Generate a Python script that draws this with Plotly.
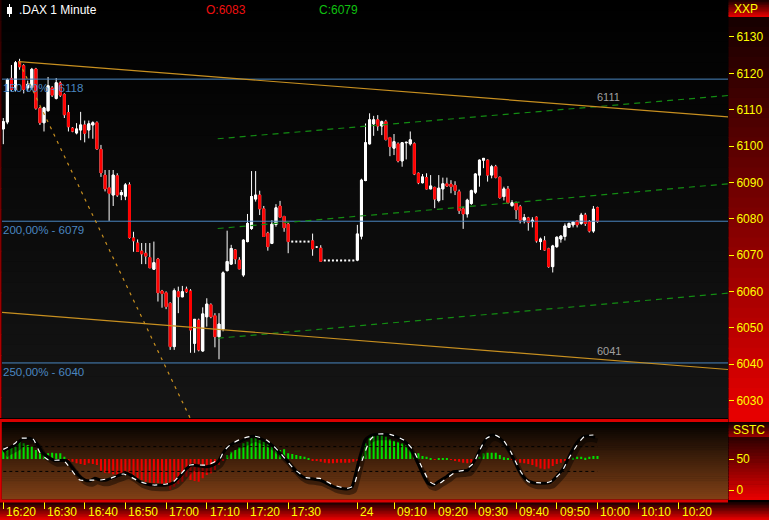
import plotly.graph_objects as go

W, H = 769, 520

# ---------------- data ----------------
day1 = [f"{h:02d}:{m:02d}" for h in (16, 17) for m in range(60)]
day1 = [t for t in day1 if "16:20" <= t <= "17:46"]
day2 = [f"{h:02d}:{m:02d}" for h in (9, 10) for m in range(60)]
day2 = [t for t in day2 if "09:01" <= t <= "10:00"]
times = day1 + day2
future_times = [f"10:{m:02d}" for m in range(1, 33)]
axis_times = times + future_times

tick_labels = ["16:20", "16:30", "16:40", "16:50", "17:00", "17:10", "17:20", "17:30",
               "24", "09:10", "09:20", "09:30", "09:40", "09:50", "10:00", "10:10", "10:20"]
tick_times = ["16:20", "16:30", "16:40", "16:50", "17:00", "17:10", "17:20", "17:30",
              "09:01", "09:10", "09:20", "09:30", "09:40", "09:50", "10:00", "10:10", "10:20"]

opens = [6104.7, 6106.6, 6118.6, 6115.6, 6123.2, 6122.1, 6116.0, 6116.1, 6121.2, 6110.4,
         6106.4, 6109.7, 6116.0, 6113.1, 6117.3, 6114.2, 6109.2, 6104.9, 6103.6, 6104.4,
         6105.8, 6104.4, 6105.8, 6106.4, 6099.1, 6092.0, 6088.5, 6086.5, 6091.8, 6086.6,
         6086.2, 6089.3, 6074.7, 6073.3, 6071.1, 6070.5, 6069.3, 6066.1, 6068.9, 6060.1,
         6059.6, 6056.7, 6044.8, 6059.9, 6058.5, 6060.6, 6060.1, 6045.7, 6052.1, 6043.6,
         6053.0, 6056.3, 6053.3, 6047.5, 6049.6, 6065.7, 6067.5, 6071.4, 6068.6, 6064.5,
         6073.7, 6077.3, 6085.4, 6086.5, 6082.7, 6076.0, 6073.2, 6078.4, 6083.5, 6080.6,
         6078.5, 6073.7, 6073.7, 6073.7, 6073.7, 6073.7, 6073.9, 6072.2, 6071.9, 6068.5,
         6068.5, 6068.5, 6068.5, 6068.5, 6068.5, 6068.5, 6068.5, 6068.6, 6075.2, 6090.5,
         6100.6, 6106.1, 6107.2, 6105.5, 6106.7, 6102.3, 6099.4, 6100.6, 6095.9, 6100.9,
         6100.6, 6100.6, 6092.5, 6089.9, 6091.3, 6088.2, 6088.6, 6085.0, 6088.2, 6089.6,
         6089.5, 6089.2, 6087.4, 6082.7, 6081.3, 6084.2, 6087.3, 6092.0, 6096.1, 6096.1,
         6092.0, 6094.3, 6091.4, 6086.1, 6088.2, 6083.6, 6084.2, 6083.3, 6079.6, 6080.2,
         6079.2, 6080.4, 6073.7, 6073.9, 6071.7, 6066.8, 6072.3, 6074.4, 6075.1, 6077.6,
         6078.3, 6079.4, 6078.7, 6081.0, 6079.2, 6076.6, 6083.0]
highs = [6107.7, 6118.6, 6122.3, 6123.4, 6124.0, 6122.5, 6118.0, 6121.5, 6121.5, 6110.8,
         6110.8, 6119.0, 6116.5, 6118.7, 6117.8, 6114.5, 6111.3, 6105.2, 6106.3, 6109.4,
         6107.0, 6107.0, 6106.8, 6106.8, 6100.3, 6093.4, 6093.4, 6093.4, 6092.5, 6087.9,
         6089.8, 6090.0, 6076.4, 6074.3, 6073.3, 6073.3, 6073.3, 6073.7, 6069.2, 6060.4,
         6060.0, 6057.0, 6060.8, 6061.3, 6061.5, 6061.3, 6060.6, 6052.3, 6052.5, 6055.6,
         6058.1, 6056.7, 6054.0, 6054.0, 6065.5, 6076.7, 6072.8, 6071.6, 6069.4, 6074.3,
         6081.3, 6093.1, 6093.1, 6087.7, 6083.5, 6076.4, 6079.6, 6084.0, 6084.9, 6080.8,
         6078.8, 6073.7, 6073.7, 6073.7, 6073.7, 6073.7, 6075.9, 6072.2, 6072.7, 6068.5,
         6068.5, 6068.5, 6068.5, 6068.5, 6068.5, 6068.5, 6068.5, 6078.3, 6091.0, 6106.2,
         6109.0, 6108.3, 6108.5, 6107.0, 6107.2, 6102.5, 6103.3, 6101.0, 6101.0, 6101.2,
         6104.0, 6101.0, 6092.7, 6092.3, 6092.5, 6092.0, 6088.8, 6092.0, 6091.3, 6091.3,
         6090.6, 6090.3, 6088.0, 6083.3, 6085.5, 6088.0, 6092.5, 6096.3, 6096.6, 6096.3,
         6094.8, 6094.8, 6091.6, 6088.8, 6089.0, 6085.1, 6084.7, 6083.8, 6081.3, 6080.5,
         6080.4, 6080.6, 6074.8, 6075.2, 6072.0, 6072.8, 6075.1, 6075.5, 6078.7, 6078.9,
         6079.3, 6079.6, 6081.6, 6081.6, 6079.6, 6083.5, 6083.3]
lows = [6100.5, 6106.0, 6115.0, 6115.0, 6121.0, 6114.5, 6115.0, 6115.5, 6110.0, 6105.8,
        6104.0, 6109.5, 6113.5, 6112.8, 6113.5, 6107.7, 6104.0, 6103.8, 6103.2, 6101.6,
        6101.0, 6102.1, 6102.0, 6099.0, 6091.5, 6087.5, 6079.4, 6083.5, 6086.0, 6085.1,
        6085.1, 6074.5, 6070.9, 6070.9, 6067.5, 6067.5, 6066.4, 6065.9, 6057.2, 6055.5,
        6055.1, 6043.9, 6043.9, 6054.0, 6058.4, 6059.6, 6043.1, 6043.1, 6043.5, 6043.4,
        6050.3, 6052.6, 6044.6, 6041.3, 6049.0, 6065.5, 6067.3, 6067.5, 6066.1, 6064.0,
        6073.5, 6076.9, 6084.7, 6081.0, 6075.0, 6071.2, 6073.0, 6077.8, 6080.3, 6076.4,
        6070.5, 6073.7, 6073.7, 6073.7, 6073.7, 6073.7, 6069.8, 6072.2, 6068.3, 6068.5,
        6068.5, 6068.5, 6068.5, 6068.5, 6068.5, 6068.5, 6068.5, 6068.3, 6074.3, 6090.3,
        6100.4, 6102.8, 6104.2, 6103.0, 6101.5, 6097.2, 6097.5, 6095.5, 6094.3, 6096.3,
        6100.1, 6092.0, 6089.5, 6089.7, 6088.1, 6088.1, 6082.9, 6084.5, 6085.1, 6088.8,
        6087.0, 6086.5, 6081.3, 6077.2, 6080.3, 6083.8, 6086.8, 6088.8, 6093.9, 6090.2,
        6091.1, 6091.1, 6085.5, 6085.0, 6084.2, 6083.3, 6079.9, 6078.7, 6078.7, 6076.7,
        6077.6, 6073.4, 6071.4, 6071.2, 6066.5, 6065.2, 6072.0, 6073.4, 6074.0, 6077.5,
        6077.6, 6077.6, 6078.3, 6078.0, 6076.2, 6076.1, 6078.9]
closes = [6106.7, 6118.2, 6115.6, 6122.9, 6121.8, 6115.6, 6117.0, 6121.1, 6110.4, 6106.4,
          6110.5, 6116.6, 6114.0, 6117.4, 6114.0, 6108.6, 6105.3, 6104.1, 6104.7, 6105.8,
          6103.5, 6106.1, 6106.4, 6099.2, 6092.6, 6088.2, 6087.0, 6092.0, 6086.5, 6087.2,
          6089.3, 6074.8, 6073.9, 6071.0, 6070.3, 6069.7, 6066.5, 6067.9, 6059.6, 6059.4,
          6055.8, 6044.8, 6060.2, 6058.5, 6059.9, 6059.9, 6049.4, 6052.3, 6043.9, 6053.8,
          6056.5, 6053.0, 6047.5, 6051.0, 6065.1, 6068.2, 6071.8, 6068.9, 6066.2, 6074.1,
          6078.7, 6086.1, 6086.5, 6082.7, 6075.1, 6072.3, 6078.5, 6083.0, 6080.4, 6077.5,
          6073.7, 6073.7, 6073.7, 6073.7, 6073.7, 6073.7, 6071.7, 6072.2, 6068.3, 6068.5,
          6068.5, 6068.5, 6068.5, 6068.5, 6068.5, 6068.5, 6068.5, 6075.8, 6090.6, 6100.9,
          6107.2, 6107.2, 6105.5, 6106.7, 6101.8, 6099.8, 6101.2, 6095.9, 6100.9, 6101.0,
          6101.7, 6092.3, 6089.9, 6091.5, 6088.2, 6089.0, 6085.4, 6088.4, 6089.6, 6089.0,
          6088.8, 6087.7, 6082.2, 6081.3, 6085.1, 6087.7, 6092.3, 6096.1, 6096.6, 6092.0,
          6094.3, 6091.4, 6085.8, 6088.2, 6084.4, 6084.4, 6082.4, 6079.6, 6080.3, 6079.0,
          6079.6, 6073.9, 6074.4, 6071.4, 6066.8, 6072.5, 6074.9, 6075.2, 6078.0, 6078.7,
          6079.1, 6078.3, 6081.0, 6078.7, 6076.6, 6082.6, 6079.2]

# Fibonacci extension levels (price) and their labels
fib_levels = [6118.4, 6079.3, 6040.3]
fib_labels = ["150,00% - 6118", "200,00% - 6079", "250,00% - 6040"]

# trend channel (gold) and fan line: (bar index, price) end points
gold_upper_x, gold_upper_y = [3.86, 178.1], [6123.2, 6108.0]
gold_lower_x, gold_lower_y = [-0.32, 178.1], [6054.2, 6038.5]
gold_fan_x, gold_fan_y = [3.86, 48.1], [6123.2, 6020.0]
channel_labels = [("6111", 145.4, 6110.9), ("6041", 145.4, 6041.2)]

# regression channel (green dashed)
green_x = [52.68, 178.1]
green_top = [6102.0, 6113.9]
green_mid = [6077.3, 6089.6]
green_bot = [6047.1, 6059.5]

# SSTC indicator
sstc_hist = [64.5, 65.6, 68.8, 72.6, 78.0, 75.3, 72.6, 69.9, 64.5, 59.1,
             56.5, 59.1, 60.2, 59.1, 59.1, 53.8, 47.3, 45.7, 43.0, 41.9,
             40.3, 43.0, 41.9, 40.3, 29.6, 28.0, 26.9, 25.3, 24.2, 23.1,
             26.9, 24.2, 21.5, 18.8, 16.1, 13.4, 11.8, 10.8, 10.8, 9.7,
             8.1, 0.5, 5.4, 9.7, 13.4, 21.5, 16.1, 14.5, 13.4, 18.8,
             24.2, 26.9, 32.3, 40.3, 48.4, 56.5, 61.8, 64.5, 68.8, 75.3,
             78.0, 83.3, 86.0, 80.6, 78.0, 75.3, 69.9, 65.6, 64.5, 65.6,
             59.1, 58.0, 56.5, 54.8, 53.8, 51.1, 48.4, 47.3, 45.7, 44.1,
             43.0, 43.0, 44.1, 44.1, 44.1, 44.1, 45.7, 48.4, 64.5, 75.3,
             86.0, 90.3, 91.4, 88.7, 86.0, 81.7, 79.6, 78.0, 75.3, 72.6,
             69.9, 60.2, 59.1, 54.8, 53.8, 51.1, 49.5, 51.1, 51.1, 51.1,
             49.5, 48.4, 45.7, 44.1, 43.0, 44.1, 49.5, 53.8, 59.1, 60.2,
             60.2, 60.2, 56.5, 52.7, 50.5, 49.5, 45.7, 44.1, 43.0, 41.9,
             40.3, 37.6, 34.9, 33.3, 34.9, 38.7, 41.9, 44.1, 46.8, 49.5,
             52.1, 53.8, 53.8, 52.1, 53.8, 54.8, 54.8]
HIST_BASE = 50
sstc_levels = [70, 30]

sstc_x = [0.0, 0.8, 2.9, 4.5, 6.6, 7.4, 8.2, 9.8, 11.5, 12.7,
          15.6, 16.8, 18.4, 20.1, 21.3, 22.5, 23.8, 25.4, 27.0, 28.7,
          30.3, 31.9, 33.6, 35.2, 36.9, 40.1, 41.8, 43.4, 45.1, 46.3,
          48.3, 50.0, 51.6, 52.8, 53.7, 54.9, 56.5, 58.2, 59.8, 61.4,
          63.1, 64.7, 66.4, 68.0, 69.6, 71.3, 72.9, 74.5, 76.2, 77.8,
          79.5, 81.1, 82.7, 84.4, 85.6, 86.4, 87.2, 88.1, 88.9, 90.1,
          91.7, 93.4, 95.0, 97.5, 99.1, 100.7, 101.9, 103.2, 104.4, 105.6,
          106.9, 108.9, 110.6, 112.6, 114.2, 115.9, 117.5, 119.1, 120.4, 122.0,
          123.7, 125.3, 126.9, 128.6, 130.2, 131.8, 134.3, 135.9, 137.6, 139.2,
          140.8, 142.5, 144.1, 145.4]
sstc_v = [61.8, 65.6, 72.6, 81.7, 83.3, 80.6, 75.3, 59.1, 51.1, 47.3,
          47.3, 37.6, 24.2, 16.1, 15.0, 18.8, 16.1, 16.1, 19.9, 24.2,
          26.9, 21.5, 13.4, 9.7, 8.1, 8.1, 11.8, 21.5, 34.9, 40.3,
          38.7, 37.6, 40.3, 45.7, 56.5, 67.2, 75.3, 78.0, 83.3, 87.1,
          83.3, 78.0, 69.9, 59.1, 48.4, 34.9, 24.2, 18.8, 17.7, 16.1,
          10.8, 5.4, 2.7, 1.6, 4.3, 21.5, 43.0, 64.5, 80.6, 87.1,
          89.8, 89.8, 88.7, 83.3, 75.3, 59.1, 43.0, 24.2, 10.8, 8.1,
          13.4, 21.5, 29.6, 30.6, 32.3, 48.4, 69.9, 86.0, 88.7, 83.3,
          69.9, 51.1, 29.6, 16.1, 11.8, 10.8, 11.8, 21.5, 34.9, 56.5,
          75.3, 86.0, 87.1, 84.9]
signal_x = [0.0, 2.9, 4.1, 6.2, 7.4, 9.0, 11.1, 14.8, 18.8, 21.3,
            23.8, 26.2, 29.5, 33.6, 36.9, 40.1, 41.8, 43.4, 45.9, 50.0,
            53.3, 54.1, 55.7, 58.2, 61.4, 64.7, 68.0, 71.3, 74.5, 77.8,
            81.1, 84.4, 86.0, 87.2, 88.5, 90.1, 91.7, 95.0, 98.4, 100.7,
            102.8, 104.8, 106.5, 108.9, 111.4, 113.4, 115.5, 117.1, 118.7, 120.8,
            122.8, 124.9, 126.9, 129.0, 131.1, 133.5, 135.1, 137.2, 139.2, 141.3,
            142.9, 145.0]
signal_v = [65.6, 75.3, 83.3, 83.3, 81.7, 60.2, 48.4, 47.3, 16.1, 16.1,
            16.1, 18.8, 25.8, 13.4, 8.1, 9.7, 13.4, 24.2, 40.3, 40.3,
            51.1, 61.8, 72.6, 81.7, 87.1, 80.6, 60.2, 34.9, 19.9, 18.8,
            8.1, 2.7, 6.5, 29.6, 53.8, 80.6, 89.8, 89.8, 80.6, 64.5,
            37.6, 13.4, 8.1, 18.8, 29.6, 32.3, 43.0, 64.5, 83.3, 88.7,
            80.6, 59.1, 32.3, 13.4, 11.8, 11.8, 16.1, 29.6, 53.8, 75.3,
            87.1, 88.7]

price_ticks = list(range(6030, 6131, 10))
sstc_ticks = [0, 50]

# ---------------- geometry / style ----------------
FONT = "Liberation Sans, Arial, sans-serif"
YEL = "#ffff00"
X_RANGE = [-0.32, 178.07]
Y_MAIN = [6025.15, 6140.18]
Y_LOW = [-15.3, 109.7]
PX_L, PX_R = 2, 728
MAIN_T, MAIN_B = 0, 418
LOW_T, LOW_B = 422, 499.5
# drop-shadow offset of the SSTC line, in pixels (right, down)
SH_DX, SH_DY = 2.5, 3.5
UNIT_X = (X_RANGE[1] - X_RANGE[0]) / (PX_R - PX_L)
UNIT_Y = (Y_LOW[1] - Y_LOW[0]) / (LOW_B - LOW_T)


def px(x):
    return x / W


def py(y):
    return 1 - y / H


def gradient(x0, x1, y0, y1, c0, c1, n=40, layer="below"):
    out = []
    for k in range(n):
        t = k / (n - 1) if n > 1 else 0
        col = tuple(int(round(c0[j] + (c1[j] - c0[j]) * t)) for j in range(3))
        ya = y0 + (y1 - y0) * k / n
        yb = y0 + (y1 - y0) * (k + 1) / n + 0.6
        yb = min(yb, y1)
        out.append(dict(type="rect", xref="paper", yref="paper",
                        x0=px(x0), x1=px(x1), y0=py(yb), y1=py(ya),
                        fillcolor="rgb(%d,%d,%d)" % col, line=dict(width=0), layer=layer))
    return out


x = list(range(len(times)))
tick_pos = [axis_times.index(t) for t in tick_times]

# bars without any movement are drawn as single dots, like the original platform
flat = [o == h == l == c for o, h, l, c in zip(opens, highs, lows, closes)]


def keep(vals):
    return [None if f else v for v, f in zip(vals, flat)]


fig = go.Figure()

# candles: wicks (white) then bodies
fig.add_trace(go.Candlestick(
    x=x, open=keep(opens), high=keep(highs), low=keep(lows), close=keep(closes),
    increasing=dict(line=dict(color="#ffffff", width=1), fillcolor="#ffffff"),
    decreasing=dict(line=dict(color="#ffffff", width=1), fillcolor="#ff0000"),
    whiskerwidth=0, hoverinfo="skip", xaxis="x", yaxis="y"))
body_hi = [max(o, c) for o, c in zip(opens, closes)]
body_lo = [min(o, c) for o, c in zip(opens, closes)]
fig.add_trace(go.Candlestick(
    x=x, open=keep(opens), high=keep(body_hi), low=keep(body_lo), close=keep(closes),
    increasing=dict(line=dict(color="#ffffff", width=1), fillcolor="#ffffff"),
    decreasing=dict(line=dict(color="#ff0000", width=1), fillcolor="#ff0000"),
    whiskerwidth=0, hoverinfo="skip", xaxis="x", yaxis="y"))
fig.add_trace(go.Scatter(
    x=[i for i, f in zip(x, flat) if f], y=[c for c, f in zip(closes, flat) if f],
    mode="markers", marker=dict(symbol="square", size=2, color="#ffffff", line=dict(width=0)),
    hoverinfo="skip", xaxis="x", yaxis="y"))

# fib horizontal lines
for lv in fib_levels:
    fig.add_trace(go.Scatter(x=X_RANGE, y=[lv, lv], mode="lines",
                             line=dict(color="#4a86c0", width=1), hoverinfo="skip"))

# green regression channel
for gy in (green_top, green_mid, green_bot):
    fig.add_trace(go.Scatter(x=green_x, y=gy, mode="lines",
                             line=dict(color="#138c13", width=1.2, dash="6px,5px"), hoverinfo="skip"))

# gold lines
for gx, gy, dash in ((gold_upper_x, gold_upper_y, "solid"), (gold_lower_x, gold_lower_y, "solid"),
                     (gold_fan_x, gold_fan_y, "3px,5px")):
    fig.add_trace(go.Scatter(x=gx, y=gy, mode="lines",
                             line=dict(color="#c89020", width=1.2, dash=dash), hoverinfo="skip"))

# lower panel: histogram
hist_col = ["#00e000" if v >= HIST_BASE else "#f00000" for v in sstc_hist]
fig.add_trace(go.Bar(x=x, y=[v - HIST_BASE for v in sstc_hist], base=HIST_BASE,
                     marker=dict(color=hist_col, line=dict(width=0)), width=0.5,
                     xaxis="x2", yaxis="y2", hoverinfo="skip"))
for lv in sstc_levels:
    fig.add_trace(go.Scatter(x=[x[0], x[-1]], y=[lv, lv], mode="lines",
                             line=dict(color="#000000", width=1, dash="dot"),
                             xaxis="x2", yaxis="y2", hoverinfo="skip"))
# shadow (on an offset overlay axis pair), main line + signal (on an unshifted overlay)
fig.add_trace(go.Scatter(x=sstc_x, y=sstc_v, mode="lines",
                         line=dict(color="rgba(0,0,0,0.42)", width=5, shape="spline", smoothing=0.6),
                         xaxis="x3", yaxis="y3", hoverinfo="skip"))
fig.add_trace(go.Scatter(x=sstc_x, y=sstc_v, mode="lines",
                         line=dict(color="#000000", width=3, shape="spline", smoothing=0.6),
                         xaxis="x4", yaxis="y4", hoverinfo="skip"))
fig.add_trace(go.Scatter(x=signal_x, y=signal_v, mode="lines",
                         line=dict(color="#ffffff", width=1.2, dash="5px,6px", shape="spline", smoothing=0.6),
                         xaxis="x4", yaxis="y4", hoverinfo="skip"))

# ---------------- decorations ----------------
shapes = []
shapes += gradient(PX_L, PX_R, MAIN_T, MAIN_B, (0, 0, 0), (21, 21, 21))
shapes += gradient(PX_L, PX_R, LOW_T, LOW_B, (4, 2, 0), (128, 64, 22))
# right axis strips
shapes += gradient(728.5, W, 0, 17, (30, 0, 0), (225, 0, 0), n=10)
shapes += gradient(728.5, W, 17, 418, (24, 0, 0), (230, 0, 0))
shapes += gradient(728.5, W, 418, 422, (230, 0, 0), (230, 0, 0), n=1)
shapes += gradient(728.5, W, 422, 437, (20, 0, 0), (150, 0, 0), n=10)
shapes += gradient(728.5, W, 437, 500, (50, 0, 0), (230, 0, 0), n=20)
# bottom time strip
shapes += gradient(0, W, 502, H, (25, 0, 0), (228, 0, 0), n=12)
# red frames of lower panel
shapes.append(dict(type="rect", xref="paper", yref="paper", x0=0, x1=px(PX_R), y0=py(422), y1=py(419),
                   fillcolor="#d80000", line=dict(width=0), layer="above"))
shapes.append(dict(type="rect", xref="paper", yref="paper", x0=0, x1=px(PX_R), y0=py(502.5), y1=py(499.5),
                   fillcolor="#d80000", line=dict(width=0), layer="above"))
shapes.append(dict(type="rect", xref="paper", yref="paper", x0=0, x1=px(1.8), y0=py(502), y1=py(419),
                   fillcolor="#d80000", line=dict(width=0), layer="above"))
shapes += gradient(0, 1.5, 0, 418, (40, 0, 0), (200, 0, 0), n=20, layer="above")
# small candle icon next to the title
shapes.append(dict(type="line", xref="paper", yref="paper", x0=px(9.5), x1=px(9.5), y0=py(17), y1=py(4),
                   line=dict(color="#ffffff", width=1), layer="above"))
shapes.append(dict(type="rect", xref="paper", yref="paper", x0=px(7), x1=px(12), y0=py(14), y1=py(7),
                   fillcolor="#ffffff", line=dict(width=0), layer="above"))

ann = []
ann.append(dict(text=".DAX 1 Minute", x=px(17), y=py(10), xref="paper", yref="paper",
                xanchor="left", yanchor="middle", showarrow=False,
                font=dict(family=FONT, size=12, color="#ffffff")))
ann.append(dict(text=f"O:{opens[-1]:.0f}", x=px(204), y=py(10), xref="paper", yref="paper",
                xanchor="left", yanchor="middle", showarrow=False,
                font=dict(family=FONT, size=12, color="#ee1010")))
ann.append(dict(text=f"C:{closes[-1]:.0f}", x=px(317), y=py(10), xref="paper", yref="paper",
                xanchor="left", yanchor="middle", showarrow=False,
                font=dict(family=FONT, size=12, color="#10c010")))
ann.append(dict(text="XXP", x=px(732), y=py(8.5), xref="paper", yref="paper",
                xanchor="left", yanchor="middle", showarrow=False,
                font=dict(family=FONT, size=12, color=YEL)))
ann.append(dict(text="SSTC", x=px(731), y=py(430), xref="paper", yref="paper",
                xanchor="left", yanchor="middle", showarrow=False,
                font=dict(family=FONT, size=12, color=YEL)))
for lv, lab in zip(fib_levels, fib_labels):
    ann.append(dict(text=lab, x=px(1), y=lv, xref="paper", yref="y", xanchor="left", yanchor="top",
                    yshift=-1, showarrow=False, font=dict(family=FONT, size=11.5, color="#4a86c0")))
for lab, lx, ly in channel_labels:
    ann.append(dict(text=lab, x=lx, y=ly, xref="x", yref="y", xanchor="left", yanchor="bottom",
                    yshift=1, showarrow=False, font=dict(family=FONT, size=11, color="#a0a0a0")))
for lab, pos in zip(tick_labels, tick_pos):
    ann.append(dict(text=lab, x=pos, y=py(512), xref="x2", yref="paper", xanchor="left",
                    yanchor="middle", xshift=1, showarrow=False,
                    font=dict(family=FONT, size=12, color=YEL)))

hidden = dict(visible=False, showgrid=False, zeroline=False)
fig.update_layout(
    width=W, height=H, margin=dict(l=0, r=0, t=0, b=0),
    paper_bgcolor="#000000", plot_bgcolor="rgba(0,0,0,0)",
    showlegend=False, barmode="overlay", boxgap=0.3,
    shapes=shapes, annotations=ann,
    xaxis=dict(domain=[px(PX_L), px(PX_R)], range=X_RANGE, anchor="y", showticklabels=False,
               showgrid=False, zeroline=False, showline=False, ticks="",
               rangeslider=dict(visible=False)),
    yaxis=dict(domain=[py(MAIN_B), py(MAIN_T)], range=Y_MAIN, anchor="x", side="right",
               tickvals=price_ticks, ticktext=[str(t) for t in price_ticks],
               ticks="outside", ticklen=5, tickwidth=1, tickcolor=YEL,
               tickfont=dict(family=FONT, size=12, color=YEL),
               showgrid=False, zeroline=False, showline=False),
    xaxis2=dict(domain=[px(PX_L), px(PX_R)], range=X_RANGE, anchor="y2",
                tickvals=tick_pos, showticklabels=False, ticks="outside", ticklen=8,
                tickwidth=1, tickcolor=YEL, showgrid=False, zeroline=False, showline=False),
    yaxis2=dict(domain=[py(LOW_B), py(LOW_T)], range=Y_LOW, anchor="x2", side="right",
                tickvals=sstc_ticks, ticktext=[str(t) for t in sstc_ticks],
                ticks="outside", ticklen=5, tickwidth=1, tickcolor=YEL,
                tickfont=dict(family=FONT, size=12, color=YEL),
                showgrid=False, zeroline=False, showline=False),
    xaxis3=dict(overlaying="x2", anchor="y3",
                range=[X_RANGE[0] - SH_DX * UNIT_X, X_RANGE[1] - SH_DX * UNIT_X], **hidden),
    yaxis3=dict(overlaying="y2", anchor="x3",
                range=[Y_LOW[0] + SH_DY * UNIT_Y, Y_LOW[1] + SH_DY * UNIT_Y], **hidden),
    xaxis4=dict(overlaying="x2", anchor="y4", range=X_RANGE, **hidden),
    yaxis4=dict(overlaying="y2", anchor="x4", range=Y_LOW, **hidden),
)

fig.write_html("out.html", config={"displayModeBar": False},
               post_script="document.body.style.margin='0';document.body.style.overflow='hidden';")
